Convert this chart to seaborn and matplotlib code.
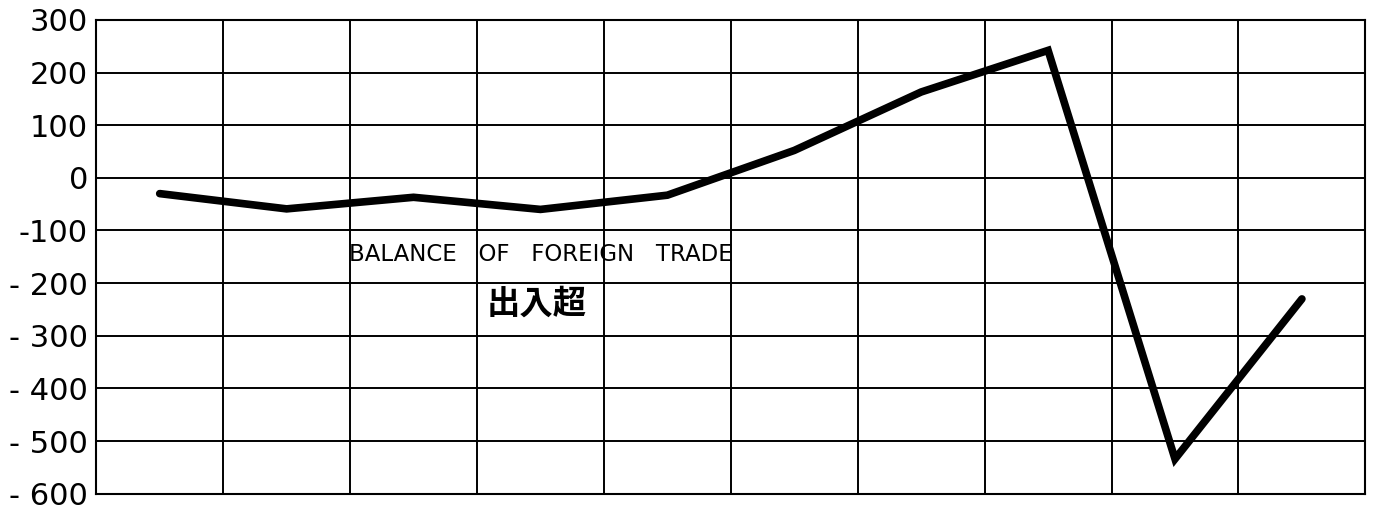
import matplotlib
matplotlib.use("Agg")
import matplotlib.pyplot as plt
import seaborn as sns
import pandas as pd

# balance of foreign trade, one value per period
period = [1, 2, 3, 4, 5, 6, 7, 8, 9, 10]
balance = [-30, -59, -37, -60, -33, 52, 163, 242, -534, -230]

ytick_values = [300, 200, 100, 0, -100, -200, -300, -400, -500, -600]
ytick_labels = ["300", "200", "100", "0", "-100", "- 200", "- 300", "- 400", "- 500", "- 600"]

title_en = "BALANCE   OF   FOREIGN   TRADE"
title_jp = "出入超"


def main():
    sns.set_style("white")
    plt.rcParams["font.family"] = ["DejaVu Sans"]
    plt.rcParams["text.color"] = "black"
    plt.rcParams["ytick.color"] = "black"

    df = pd.DataFrame({"period": period, "balance": balance})

    fig = plt.figure(figsize=(13.75, 5.09), dpi=100)
    ax = fig.add_axes([0.07, 0.03, 0.923, 0.931])

    sns.lineplot(data=df, x="period", y="balance", ax=ax,
                 color="black", linewidth=5.5, solid_joinstyle="miter",
                 solid_capstyle="round")

    ax.set_xlim(0.5, 10.5)
    ax.set_ylim(-600, 300)

    # grid: horizontal every 100, vertical between periods
    for v in ytick_values:
        ax.axhline(v, color="black", linewidth=1.4, zorder=0)
    for i in range(len(period) - 1):
        ax.axvline(period[i] + 0.5, color="black", linewidth=1.4, zorder=0)

    ax.set_xticks([])
    ax.set_yticks(ytick_values)
    ax.set_yticklabels(ytick_labels, fontsize=22, color="black")
    ax.tick_params(axis="y", length=0, pad=6)
    ax.set_xlabel("")
    ax.set_ylabel("")
    for s in ax.spines.values():
        s.set_color("black")
        s.set_linewidth(1.5)

    ax.text(4.0, -146, title_en, ha="center", va="center", fontsize=16.5,
            color="black")
    ax.text(3.97, -240, title_jp, ha="center", va="center", fontsize=24,
            fontweight="bold", color="black",
            family=["Noto Sans CJK JP", "DejaVu Sans"])

    fig.savefig("out.png", dpi=100)
    plt.close(fig)


if __name__ == "__main__":
    main()
